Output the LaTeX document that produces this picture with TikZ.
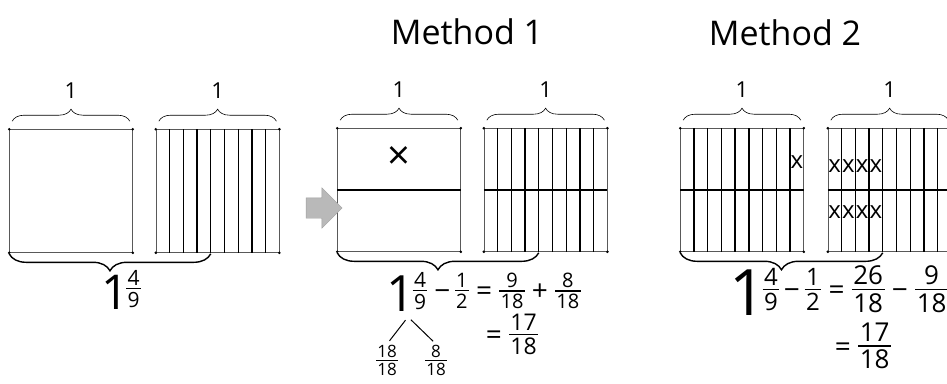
\documentclass[tikz,border=0pt]{standalone}
\usepackage{fontspec}
\setmainfont{Open Sans}
\usetikzlibrary{positioning, calc, decorations.pathreplacing, shapes.arrows}
\newcommand{\hfr}[3][18]{$\vcenter{\hbox{\fontsize{#1}{#1}\selectfont\setlength{\arrayrulewidth}{1.1pt}\begin{tabular}{@{\kern0.06em}c@{\kern0.06em}}#2\\[-0.16em]\hline\rule{0pt}{0.86em}#3\end{tabular}}}$}
\newcommand{\bigone}[1]{$\vcenter{\hbox{\fontsize{#1}{#1}\selectfont\makebox[0.48em]{1}}}$}

\begin{document}
\begin{tikzpicture}[
    x=1pt, y=-1pt,
    unitsq/.style={rectangle, draw=black!65, line width=0.6pt, minimum width=123pt, minimum height=123pt, inner sep=0pt},
    part/.style={line width=1.3pt, draw=black},
    bracetop/.style={decorate, decoration={brace, amplitude=12pt}, line width=0.6pt},
    bracebot/.style={decorate, decoration={brace, amplitude=17pt}, line width=1.4pt},
    onelbl/.style={font=\fontsize{22}{24}\selectfont, inner sep=0pt},
    title/.style={font=\fontsize{34}{40}\selectfont},
    eqn/.style={font=\fontsize{28}{30}\selectfont, inner sep=1pt},
    cross/.style={font=\fontsize{24}{26}\selectfont, inner sep=0pt},
    shiftarrow/.style={single arrow, fill=gray!55, draw=gray!75, minimum height=36pt, single arrow head extend=10pt, inner xsep=0pt, inner ysep=10pt, text height=0pt, text depth=0pt},
    splitline/.style={line width=1pt, shorten >=4pt, shorten <=4pt}
]
    \useasboundingbox (0,0) rectangle (947,383);

    % titles
    \node[title] (meth1) at (467,32) {Method 1};
    \node[title] (meth2) at (785,33) {Method 2};

    % unit squares
    \node[unitsq] (whole1) at (71,191) {};
    \node[unitsq, right=23pt of whole1] (ninth1) {};
    \node[unitsq] (whole2) at (399,190) {};
    \node[unitsq, right=23pt of whole2] (ninth2) {};
    \node[unitsq] (whole3) at (742,190) {};
    \node[unitsq, right=24pt of whole3] (ninth3) {};

    % ninths
    \foreach \sq in {ninth1, ninth2, whole3, ninth3}
        \foreach \k in {1,...,8}
            \draw[part] ($(\sq.north west)!\k/9!(\sq.north east)$) -- ($(\sq.south west)!\k/9!(\sq.south east)$);

    % halves
    \foreach \sq in {whole2, ninth2, whole3, ninth3}
        \draw[part] (\sq.west) -- (\sq.east);

    % corner dots
    \foreach \sq in {whole1, ninth1, whole2, ninth2, whole3, ninth3}
        \foreach \c in {north west, north east, south west, south east}
            \fill (\sq.\c) circle (1.4pt);

    % crossed out parts
    \node[font=\fontsize{40}{42}\selectfont, inner sep=0pt] (crossbig) at ($(whole2.north)!0.24!(whole2.south)$) {×};
    \node[cross] (crossE) at ($(whole3.north west)!17/18!(whole3.north east) + (0,34)$) {x};
    \foreach \k in {1,...,4} {
        \node[cross] (crossT\k) at ($(ninth3.north west)!{(2*\k-1)/18}!(ninth3.north east) + (0,38)$) {x};
        \node[cross] (crossB\k) at ($(ninth3.north west)!{(2*\k-1)/18}!(ninth3.north east) + (0,84)$) {x};
    }

    % braces over each unit
    \foreach \sq in {whole1, ninth1, whole2, ninth2, whole3, ninth3} {
        \draw[bracetop] ([xshift=3pt,yshift=8pt]\sq.north west) -- ([xshift=-3pt,yshift=8pt]\sq.north east);
        \node[onelbl] (one-\sq) at ([yshift=39pt]\sq.north) {1};
    }

    % braces under the mixed number
    \draw[bracebot] ($(ninth1.south west)!4/9!(ninth1.south east) + (0,1)$) -- ([yshift=-1pt]whole1.south west);
    \draw[bracebot] ($(ninth2.south west)!4/9!(ninth2.south east) + (0,1)$) -- ([yshift=-1pt]whole2.south west);
    \draw[bracebot] ($(ninth3.south west)!4/9!(ninth3.south east) + (0,1)$) -- ([yshift=-1pt]whole3.south west);

    % arrow between the panels
    \node[shiftarrow] (move) at (319,208) {};

    % equations
    \node[eqn] (mix1) at (122,292) {\bigone{48}\hfr[21]{4}{9}};

    \node[eqn] (mix2) at (408,294) {\bigone{50}\hfr[21]{4}{9}};
    \node[eqn, anchor=base west] (rest2) at (mix2.base east) {\,−\,\hfr[20]{1}{2} = \hfr[20]{9}{18} + \hfr[20]{8}{18}};
    \node[eqn] (sum2) at (512,338) {= \hfr[23]{17}{18}};
    \node[eqn] (whole18) at (387,363) {\hfr[17]{18}{18}};
    \node[eqn] (part18) at (436,363) {\hfr[17]{8}{18}};
    \draw[splitline] (mix2.south) -- (whole18.north);
    \draw[splitline] (mix2.south) -- (part18.north);

    \node[eqn] (mix3) at (840,293) {\bigone{64}\hfr[24]{4}{9}\,−\,\hfr[24]{1}{2} = \hfr[26]{26}{18} − \hfr[26]{9}{18}};
    \node[eqn] (sum3) at (863,350) {= \hfr[26]{17}{18}};
\end{tikzpicture}
\end{document}
